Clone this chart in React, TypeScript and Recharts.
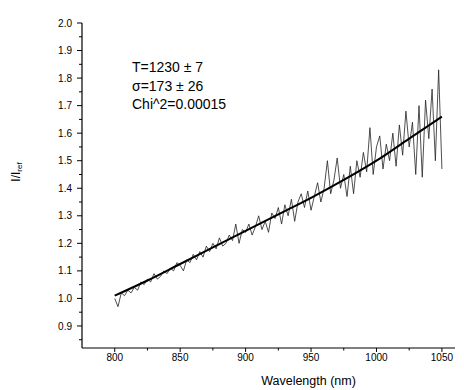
import React from 'react';
import { LineChart, Line, XAxis, YAxis, Label } from 'recharts';

const wavelengths = [
  800, 802.5, 805, 807.5, 810, 812.5, 815, 817.5, 820, 822.5,
  825, 827.5, 830, 832.5, 835, 837.5, 840, 842.5, 845, 847.5,
  850, 852.5, 855, 857.5, 860, 862.5, 865, 867.5, 870, 872.5,
  875, 877.5, 880, 882.5, 885, 887.5, 890, 892.5, 895, 897.5,
  900, 902.5, 905, 907.5, 910, 912.5, 915, 917.5, 920, 922.5,
  925, 927.5, 930, 932.5, 935, 937.5, 940, 942.5, 945, 947.5,
  950, 952.5, 955, 957.5, 960, 962.5, 965, 967.5, 970, 972.5,
  975, 977.5, 980, 982.5, 985, 987.5, 990, 992.5, 995, 997.5,
  1000, 1002.5, 1005, 1007.5, 1010, 1012.5, 1015, 1017.5, 1020, 1022.5,
  1025, 1027.5, 1030, 1032.5, 1035, 1037.5, 1040, 1042.5, 1045, 1047.5,
  1050,
];

const measured = [
  1.0, 0.97, 1.02, 1.01, 1.03, 1.02, 1.04, 1.03, 1.06, 1.05,
  1.07, 1.06, 1.09, 1.07, 1.08, 1.1, 1.09, 1.11, 1.1, 1.13,
  1.12, 1.1, 1.14, 1.13, 1.16, 1.14, 1.17, 1.15, 1.19, 1.17,
  1.2, 1.18, 1.22, 1.19, 1.2, 1.23, 1.21, 1.27, 1.2, 1.25,
  1.24, 1.27, 1.23, 1.26, 1.3, 1.25, 1.28, 1.24, 1.31, 1.29,
  1.33, 1.27, 1.34, 1.3, 1.36, 1.28, 1.35, 1.38, 1.33, 1.39,
  1.32, 1.37, 1.42, 1.35, 1.4, 1.5, 1.38, 1.43, 1.51, 1.4,
  1.45, 1.37, 1.48, 1.38, 1.5, 1.44, 1.53, 1.46, 1.62, 1.45,
  1.55, 1.59, 1.47, 1.56, 1.5, 1.6, 1.48, 1.63, 1.52, 1.68,
  1.55, 1.64, 1.45, 1.7, 1.44, 1.72, 1.58, 1.76, 1.5, 1.83,
  1.47,
];

const fitWavelengths = [800, 825, 850, 875, 900, 925, 950, 975, 1000, 1025, 1050];
const fitValues = [1.01, 1.065, 1.125, 1.185, 1.245, 1.305, 1.365, 1.43, 1.5, 1.58, 1.66];

const xTicks = [800, 825, 850, 875, 900, 925, 950, 975, 1000, 1025, 1050];
const yTicks = [0.85, 0.9, 0.95, 1.0, 1.05, 1.1, 1.15, 1.2, 1.25, 1.3, 1.35, 1.4, 1.45, 1.5, 1.55, 1.6, 1.65, 1.7, 1.75, 1.8, 1.85, 1.9, 1.95, 2.0];

const annotationLines = ['T=1230 \u00b1 7', '\u03c3=173 \u00b1 26', 'Chi^2=0.00015'];

const measuredData = wavelengths.map((w, i) => ({ w, v: measured[i] }));
const fitData = fitWavelengths.map((w, i) => ({ w, v: fitValues[i] }));

const FONT = 'Arial, "Liberation Sans", sans-serif';
const X_TICK_SIZE = 4;
const X_TICK_MARGIN = 2;
const Y_TICK_SIZE = 5;
const Y_TICK_MARGIN = 5;

const XTick = (props: any) => {
  const { x, y, payload } = props;
  const major = Math.round(payload.value) % 50 === 0;
  const axisY = y - X_TICK_SIZE - X_TICK_MARGIN;
  return (
    <g>
      <line x1={x} x2={x} y1={axisY} y2={axisY + (major ? X_TICK_SIZE : 2.5)} stroke="#000" strokeWidth={1} />
      {major && (
        <text x={x} y={y} dy="0.71em" textAnchor="middle" fontSize={10} fontFamily={FONT} fill="#000">
          {payload.value}
        </text>
      )}
    </g>
  );
};

const YTick = (props: any) => {
  const { x, y, payload } = props;
  const major = Math.round(payload.value * 100) % 10 === 0;
  const axisX = x + Y_TICK_SIZE + Y_TICK_MARGIN;
  return (
    <g>
      <line x1={axisX - (major ? Y_TICK_SIZE : 3)} x2={axisX} y1={y} y2={y} stroke="#000" strokeWidth={1} />
      {major && (
        <text x={x} y={y} dy="0.355em" textAnchor="end" fontSize={10} fontFamily={FONT} fill="#000">
          {payload.value.toFixed(1)}
        </text>
      )}
    </g>
  );
};

const YLabel = (props: any) => {
  const vb = props.viewBox || { x: 0, y: 0, width: 82, height: 325 };
  const cx = vb.x + 16;
  const cy = 172;
  return (
    <text
      x={cx}
      y={cy}
      transform={`rotate(-90 ${cx} ${cy})`}
      textAnchor="middle"
      dominantBaseline="central"
      fontSize={12}
      fontFamily={FONT}
      fill="#000"
    >
      I/I
      <tspan fontSize={8} dy={3}>ref</tspan>
    </text>
  );
};

export default function App() {
  return (
    <div style={{ position: 'absolute', left: 0, top: 0, width: 464, height: 390, background: '#fff' }}>
      <LineChart width={464} height={390} margin={{ top: 23, right: 9, bottom: 2, left: 0 }}>
        <XAxis
          dataKey="w"
          type="number"
          domain={[775, 1060]}
          ticks={xTicks}
          allowDuplicatedCategory={false}
          height={40}
          tickSize={X_TICK_SIZE}
          tickMargin={X_TICK_MARGIN}
          tickLine={false}
          tick={<XTick />}
          interval={0}
          axisLine={{ stroke: '#000', strokeWidth: 1.2 }}
        >
          <Label
            value="Wavelength (nm)"
            position="insideBottom"
            offset={3}
            dx={40}
            fontSize={12.5}
            fontFamily={FONT}
            fill="#000"
          />
        </XAxis>
        <YAxis
          dataKey="v"
          type="number"
          domain={[0.82, 2.0]}
          ticks={yTicks}
          width={82}
          tickSize={Y_TICK_SIZE}
          tickMargin={Y_TICK_MARGIN}
          tickLine={false}
          tick={<YTick />}
          interval={0}
          axisLine={{ stroke: '#000', strokeWidth: 1.2 }}
        >
          <Label content={<YLabel />} />
        </YAxis>
        <Line
          data={measuredData}
          dataKey="v"
          type="linear"
          stroke="#222"
          strokeWidth={0.8}
          dot={false}
          isAnimationActive={false}
        />
        <Line
          data={fitData}
          dataKey="v"
          type="monotone"
          stroke="#000"
          strokeWidth={2}
          dot={false}
          isAnimationActive={false}
        />
      </LineChart>
      <div
        style={{
          position: 'absolute',
          left: 132,
          top: 58,
          fontFamily: FONT,
          fontSize: 14,
          lineHeight: '18.5px',
          color: '#000',
          whiteSpace: 'pre',
        }}
      >
        {annotationLines.map((t) => (
          <div key={t}>{t}</div>
        ))}
      </div>
    </div>
  );
}
